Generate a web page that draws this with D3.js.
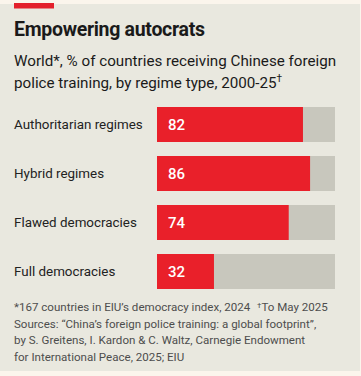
<!DOCTYPE html>
<html>
<head>
<meta charset="utf-8">
<script src="https://cdn.jsdelivr.net/npm/d3@7"></script>
<style>
  html, body { margin: 0; padding: 0; background: #fbf5ec; }
  svg { display: block; }
  text { font-family: Roboto, "Noto Sans", sans-serif; }
</style>
</head>
<body>
<script>
const categories = ["Authoritarian regimes", "Hybrid regimes", "Flawed democracies", "Full democracies"];
const values = [82, 86, 74, 32];
const footnotes = [
  "*167 countries in EIU\u2019s democracy index, 2024",
  "Sources: \u201cChina\u2019s foreign police training: a global footprint\u201d,",
  "by S. Greitens, I. Kardon & C. Waltz, Carnegie Endowment",
  "for International Peace, 2025; EIU"
];

const width = 361, height = 376;
const svg = d3.select("body").append("svg")
  .attr("width", width)
  .attr("height", height);

svg.append("rect").attr("x", 0).attr("y", 0).attr("width", width).attr("height", height).attr("fill", "#fbf5ec");
svg.append("rect").attr("x", 0).attr("y", 4).attr("width", 360).attr("height", 367).attr("fill", "#e9e8df");
svg.append("rect").attr("x", 14).attr("y", 3).attr("width", 40).attr("height", 5.5).attr("fill", "#e3202b");

svg.append("text").attr("x", 14).attr("y", 36)
  .attr("font-size", 19.5).attr("font-weight", 700).attr("fill", "#1a1a1a")
  .attr("letter-spacing", -0.3)
  .text("Empowering autocrats");

let sub = svg.append("text").attr("font-size", 15.2).attr("fill", "#1a1a1a");
sub.append("tspan").attr("x", 14).attr("y", 66).text("World*, % of countries receiving Chinese foreign");
sub.append("tspan").attr("x", 14).attr("y", 88).text("police training, by regime type, 2000-25");
sub.append("tspan").attr("dy", -6).attr("font-size", 10).text("\u2020");

const x = d3.scaleLinear().domain([0, 100]).range([157, 335]);
// step 49, bar height 35
const y = d3.scaleBand().domain(categories)
  .range([107, 107 + 49 * 4 - 14])
  .paddingInner(14 / 49).paddingOuter(0);

const rows = svg.selectAll("g.row").data(categories).join("g").attr("class", "row");

rows.append("rect")
  .attr("x", x(0)).attr("y", d => y(d))
  .attr("width", x(100) - x(0)).attr("height", y.bandwidth())
  .attr("fill", "#c8c7bd");

rows.append("rect")
  .attr("x", x(0)).attr("y", d => y(d))
  .attr("width", (d, i) => x(values[i]) - x(0)).attr("height", y.bandwidth())
  .attr("fill", "#e9202a");

rows.append("text")
  .attr("x", 14).attr("y", d => y(d) + y.bandwidth() / 2)
  .attr("dy", "0.35em").attr("font-size", 13.4).attr("fill", "#222")
  .text(d => d);

rows.append("text")
  .attr("x", x(0) + 11).attr("y", d => y(d) + y.bandwidth() / 2)
  .attr("dy", "0.36em").attr("font-size", 15).attr("font-weight", 500).attr("fill", "#fff")
  .text((d, i) => values[i]);

const foot = svg.append("g").attr("font-size", 11.55).attr("fill", "#4d4d4d");
foot.selectAll("text").data(footnotes).join("text")
  .attr("x", 14).attr("y", (d, i) => 311 + i * 16.5)
  .text(d => d);
let dag = foot.append("text").attr("x", 257).attr("y", 311);
dag.append("tspan").attr("font-size", 8).attr("dy", -3).text("\u2020");
dag.append("tspan").attr("dy", 3).text("To May 2025");
</script>
</body>
</html>
